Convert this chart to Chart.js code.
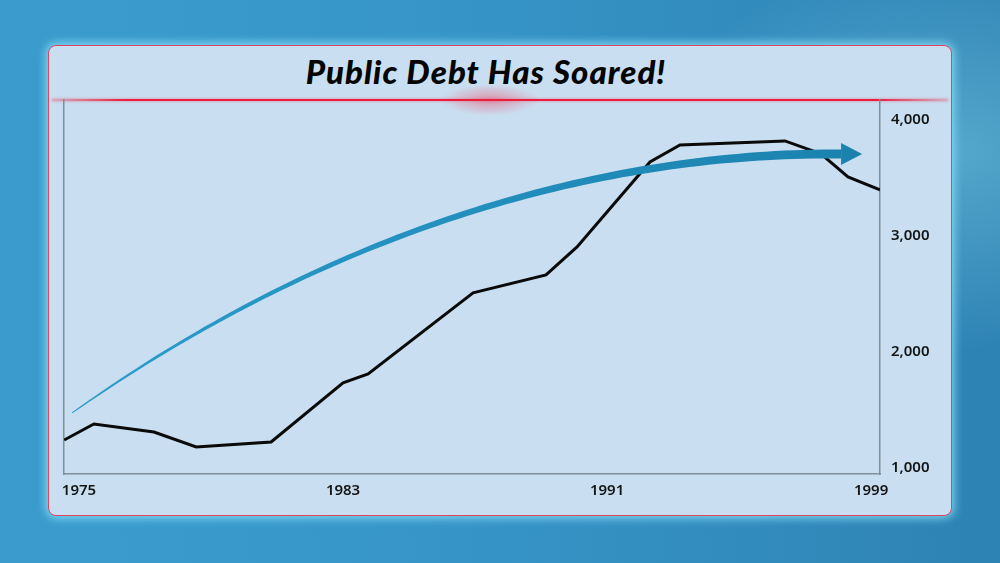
<!DOCTYPE html>
<html>
<head>
<meta charset="utf-8">
<script src="https://cdn.jsdelivr.net/npm/chart.js@4"></script>
<style>
  html, body { margin: 0; padding: 0; }
  body {
    width: 1000px; height: 563px; overflow: hidden; position: relative;
    background:
      radial-gradient(ellipse 300px 200px at 960px 150px, rgba(140,220,240,0.4), rgba(0,0,0,0)),
      linear-gradient(90deg, #3a9ccd 0%, #3896c8 40%, #338dbf 70%, #2d83b3 100%);
    font-family: "Noto Sans", sans-serif;
  }
  #panel {
    position: absolute; left: 48px; top: 45px; width: 902px; height: 469px;
    border: 1.5px solid #e0455f; border-radius: 8px;
    background: #c9dff1;
    box-shadow: 0 0 10px 2px rgba(150,235,255,0.8);
  }
  #title {
    position: absolute; left: 0; top: 51px; width: 972px; text-align: center;
    font: italic 900 33px Lato, "Noto Sans", sans-serif; color: #050505;
    letter-spacing: 1px;
  }
  #redline {
    position: absolute; left: 52px; top: 99px; width: 896px; height: 2px;
    background: linear-gradient(90deg, rgba(230,40,70,0.25), #e8203e 8%, #e8203e 92%, rgba(230,40,70,0.25));
    box-shadow: 0 0 3px rgba(240,60,90,0.6);
  }
  #glow {
    position: absolute; left: 440px; top: 84px; width: 100px; height: 32px;
    background: radial-gradient(ellipse at center, rgba(240,60,90,0.45), rgba(240,60,90,0) 70%);
  }
  canvas { position: absolute; left: 0; top: 0; }
</style>
</head>
<body>
<div id="panel"></div>
<div id="glow"></div>
<div id="redline"></div>
<div id="title">Public Debt Has Soared!</div>
<canvas id="myChart" width="1000" height="563"></canvas>
<script>
// public debt
const years = [1974.55, 1975.45, 1977.27, 1978.55, 1980.82, 1983.0, 1983.76, 1986.94,
               1989.15, 1990.09, 1992.30, 1993.21, 1996.39, 1997.48, 1998.30, 1999.27]
const debt = [1241, 1379, 1310, 1181, 1224, 1733, 1810, 2509,
              2664, 2905, 3638, 3784, 3819, 3707, 3509, 3397]
const yearTicks = [1975, 1983, 1991, 1999]
const debtTicks = [1000, 2000, 3000, 4000]

// trend arrow, in data units (year, debt): start, two control points, end of shaft, tip
const arrowStart = [1974.79, 1474]
const arrowCtrl1 = [1982.36, 3000]
const arrowCtrl2 = [1990.52, 3724]
const arrowEnd = [1998.09, 3707]
const arrowTip = [1998.73, 3707]

const points = years.map(function(y, i){ return {x: y, y: debt[i]} })

// draws the tapering blue arrow on top of the line
const trendArrowPlugin = {
  id: "trendArrow",
  afterDatasetsDraw(chart){
    const ctx = chart.ctx
    const sx = chart.scales.x, sy = chart.scales.y
    const p = function(d){ return [sx.getPixelForValue(d[0]), sy.getPixelForValue(d[1])] }
    const P0 = p(arrowStart), P1 = p(arrowCtrl1), P2 = p(arrowCtrl2), P3 = p(arrowEnd), T = p(arrowTip)
    const n = 80
    const top = [], bot = []
    for(let i = 0; i <= n; i++){
      const t = i / n, u = 1 - t
      const x = u*u*u*P0[0] + 3*u*u*t*P1[0] + 3*u*t*t*P2[0] + t*t*t*P3[0]
      const y = u*u*u*P0[1] + 3*u*u*t*P1[1] + 3*u*t*t*P2[1] + t*t*t*P3[1]
      const dx = 3*u*u*(P1[0]-P0[0]) + 6*u*t*(P2[0]-P1[0]) + 3*t*t*(P3[0]-P2[0])
      const dy = 3*u*u*(P1[1]-P0[1]) + 6*u*t*(P2[1]-P1[1]) + 3*t*t*(P3[1]-P2[1])
      const len = Math.hypot(dx, dy)
      const nx = -dy / len, ny = dx / len
      const w = (0.9 + 8.2 * Math.pow(t, 0.7)) / 2
      top.push([x + nx*w, y + ny*w])
      bot.push([x - nx*w, y - ny*w])
    }
    ctx.save()
    const grad = ctx.createLinearGradient(P0[0], 0, T[0], 0)
    grad.addColorStop(0, "#2a9ccc")
    grad.addColorStop(1, "#1b82ae")
    ctx.fillStyle = grad
    ctx.beginPath()
    ctx.moveTo(top[0][0], top[0][1])
    top.forEach(function(q){ ctx.lineTo(q[0], q[1]) })
    for(let i = bot.length - 1; i >= 0; i--) ctx.lineTo(bot[i][0], bot[i][1])
    ctx.closePath()
    ctx.fill()
    // head
    ctx.beginPath()
    ctx.moveTo(P3[0], P3[1] - 11)
    ctx.lineTo(T[0], T[1])
    ctx.lineTo(P3[0], P3[1] + 11)
    ctx.closePath()
    ctx.fill()
    ctx.restore()
  }
}

const tickFont = {family: "'Noto Sans', sans-serif", size: 15, weight: "600"}

new Chart("myChart", {
  type: "line",
  data: {
    datasets: [{
      label: "Public debt",
      data: points,
      borderColor: "#0a0a0a",
      borderWidth: 3,
      pointRadius: 0,
      tension: 0,
      fill: false
    }]
  },
  options: {
    responsive: false,
    animation: false,
    layout: {padding: {left: 64, top: 100, right: 0, bottom: 0}},
    plugins: {legend: {display: false}, tooltip: {enabled: false}},
    scales: {
      x: {
        type: "linear",
        min: 1974.545, max: 1999.27,
        afterBuildTicks(scale){ scale.ticks = yearTicks.map(function(v){ return {value: v} }) },
        afterFit(scale){ scale.height = 89 },
        grid: {display: false, drawTicks: false},
        border: {display: true, color: "#7f8d99", width: 1.5},
        ticks: {color: "#151515", font: tickFont, padding: 8, maxRotation: 0,
                callback(v){ return String(v) }}
      },
      y: {
        position: "right",
        min: 948, max: 4172,
        afterBuildTicks(scale){ scale.ticks = debtTicks.map(function(v){ return {value: v} }) },
        afterFit(scale){ scale.width = 120 },
        grid: {display: false, drawTicks: false},
        border: {display: true, color: "#7f8d99", width: 1.5},
        ticks: {color: "#151515", font: tickFont, padding: 11,
                callback(v){ return v.toLocaleString("en-US") }}
      },
      yLeft: {
        position: "left",
        min: 948, max: 4172,
        afterFit(scale){ scale.width = 0 },
        grid: {display: false, drawTicks: false},
        border: {display: true, color: "#7f8d99", width: 1.5},
        ticks: {display: false}
      }
    }
  },
  plugins: [trendArrowPlugin]
})
</script>
</body>
</html>
